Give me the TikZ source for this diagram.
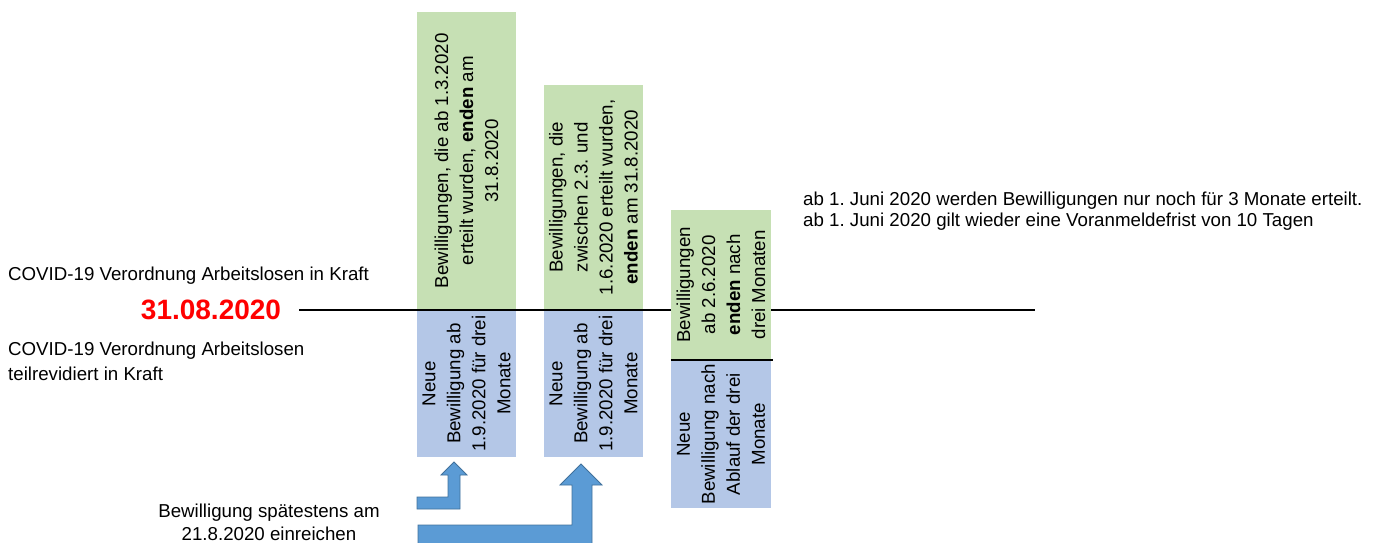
\documentclass[tikz,border=0pt]{standalone}
\usepackage{fontspec}
\setmainfont{Liberation Sans}
\usetikzlibrary{positioning,calc}
\definecolor{gruen}{HTML}{C6E0B4}
\definecolor{blau}{HTML}{B4C7E7}
\definecolor{pfeilblau}{HTML}{5B9BD5}
\definecolor{pfeilrand}{HTML}{41719C}
\frenchspacing

\begin{document}
\begin{tikzpicture}[
	x=1pt, y=-1pt,
	txt/.style={
		inner sep=0,
		font=\fontsize{18.7}{21}\selectfont,
	},
	rect/.style={
		rectangle,
		rotate=90,
		inner sep=0,
		minimum height=99,
		align=center,
		font=\fontsize{18.7}{25}\selectfont,
	},
	gruenrect/.style={
		rect,
		fill=gruen,
	},
	blaurect/.style={
		rect,
		fill=blau,
	},
	pfeil/.style={
		fill=pfeilblau,
		draw=pfeilrand,
		line width=0.8pt,
	},
	zeit/.style={
		line width=1.6pt,
	},
]
\useasboundingbox (0,0) rectangle (1379,543);

% Texte links
\node [txt, anchor=base west] (kraft) at (8,280) {COVID-19 Verordnung Arbeitslosen in Kraft};
\node [font=\fontsize{28}{28}\selectfont\bfseries, text=red, inner xsep=18pt, inner ysep=0] (datum) at (211,310) {31.08.2020};
\node [txt, font=\fontsize{18.7}{25}\selectfont, align=left, anchor=base west] (teilrev) at (8,380)
{COVID-19 Verordnung Arbeitslosen\\teilrevidiert in Kraft};
\node [txt, font=\fontsize{18.7}{23}\selectfont, align=center, anchor=base] (frist) at (269,540)
{Bewilligung sp\"atestens am\\21.8.2020 einreichen};
%
\node [txt, align=left, anchor=base west] (juni) at (803,226)
{ab 1. Juni 2020 werden Bewilligungen nur noch f\"ur 3 Monate erteilt.\\ab 1. Juni 2020 gilt wieder eine Voranmeldefrist von 10 Tagen};

% Balken 1 und 2
\node [gruenrect, anchor=west, minimum width=298] (gruen1) at (466.5,310)
{Bewilligungen,\ die ab 1.3.2020\\erteilt wurden, \textbf{enden}\ am\\31.8.2020};
\node [blaurect, anchor=east, minimum width=147] (blau1) at (gruen1.west)
{Neue\\Bewilligung ab\\1.9.2020 f\"ur drei\\Monate};
%
\node [gruenrect, anchor=west, minimum width=225] (gruen2) at (593.5,310)
{Bewilligungen, die\\zwischen 2.3. und\\1.6.2020 erteilt wurden,\\\textbf{enden}\ am 31.8.2020};
\node [blaurect, anchor=east, minimum width=147] (blau2) at (gruen2.west)
{Neue\\Bewilligung ab\\1.9.2020 f\"ur drei\\Monate};

% Zeitachse
\coordinate (zeitende) at (1035,310);
\draw [zeit] (datum.east) -- (zeitende);

% Balken 3
\node [gruenrect, anchor=west, minimum width=150, minimum height=100] (gruen3) at (721,360)
{Bewilligungen\\ab 2.6.2020\\\textbf{enden}\ nach\\drei Monaten};
\node [blaurect, anchor=east, minimum width=148, minimum height=100] (blau3) at (gruen3.west)
{Neue\\Bewilligung nach\\Ablauf der drei\\Monate};
\draw [zeit] (gruen3.north west) -- ([xshift=2pt]gruen3.south west);

% Pfeile
\filldraw [pfeil] (417,497) -- (448,497) -- (448,475) -- (441,475) -- (454,462)
	-- (467,475) -- (460,475) -- (460,509) -- (417,509) -- cycle;
\filldraw [pfeil] (418,525) -- (572,525) -- (572,485) -- (560,485) -- (581,464)
	-- (602,485) -- (592,485) -- (592,548) -- (418,548) -- cycle;
\end{tikzpicture}
\end{document}
